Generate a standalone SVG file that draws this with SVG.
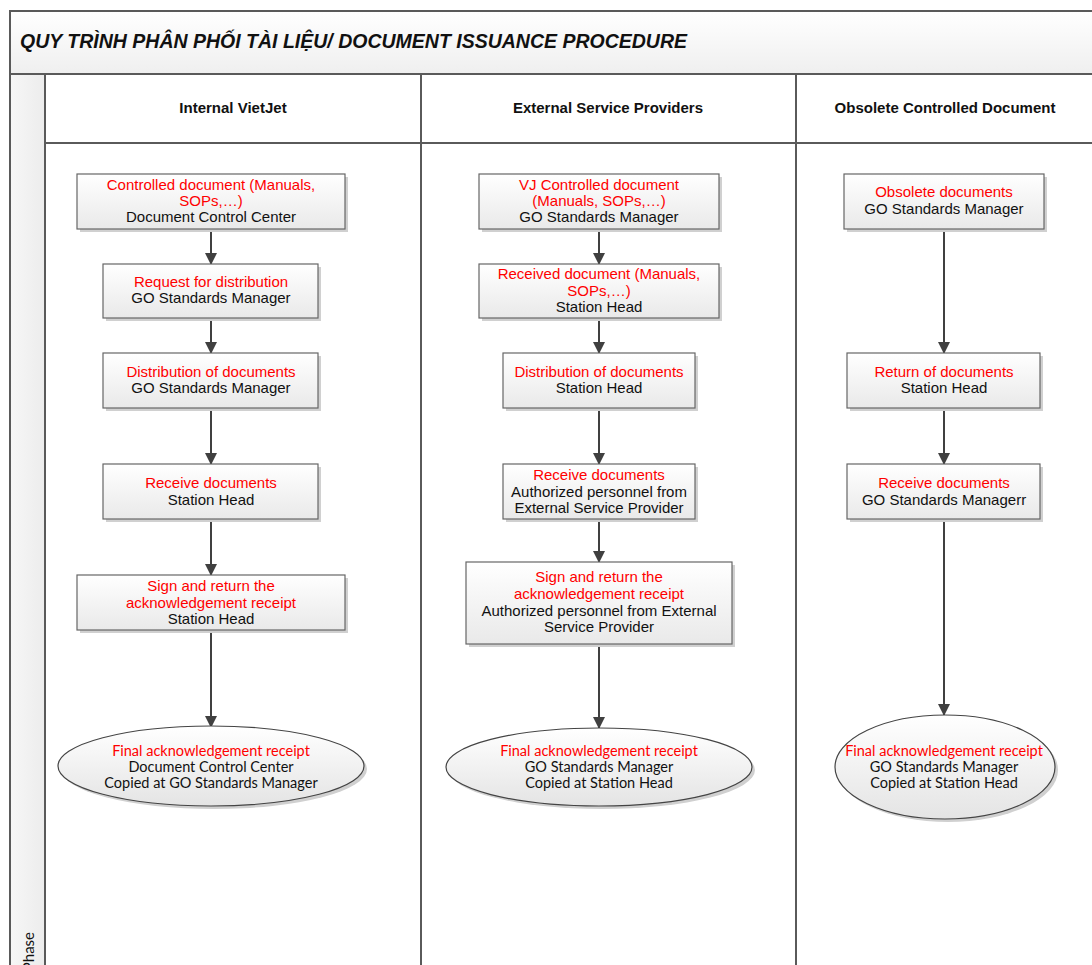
<svg xmlns="http://www.w3.org/2000/svg" width="1092" height="965" viewBox="0 0 1092 965">
<defs>
<linearGradient id="gBox" x1="0" y1="0" x2="0" y2="1"><stop offset="0" stop-color="#ffffff"/><stop offset="1" stop-color="#e9e9e9"/></linearGradient>
<linearGradient id="gEll" x1="0" y1="0" x2="0" y2="1"><stop offset="0" stop-color="#ffffff"/><stop offset="1" stop-color="#e4e4e4"/></linearGradient>
<linearGradient id="gTitle" x1="0" y1="0" x2="0" y2="1"><stop offset="0" stop-color="#ffffff"/><stop offset="1" stop-color="#efefef"/></linearGradient>
<linearGradient id="gPhase" x1="0" y1="0" x2="1" y2="0"><stop offset="0" stop-color="#f7f7f7"/><stop offset="1" stop-color="#ececec"/></linearGradient>
<marker id="arr" markerWidth="12" markerHeight="12" refX="11" refY="6" orient="auto" markerUnits="userSpaceOnUse" viewBox="0 0 12 12"><path d="M0,0 L12,6 L0,12 z" fill="#404040"/></marker>
</defs>
<style>
.frame{fill:none;stroke:#5a5a5a;stroke-width:2}
.box{fill:url(#gBox);stroke:#666;stroke-width:1.2}
.shadow{fill:#d0d0d0}
.ell{fill:url(#gEll);stroke:#444;stroke-width:1.2}
.t{font-family:"Liberation Sans",Arial,sans-serif;font-size:15px;text-anchor:middle}
.e{font-family:Lato,"Open Sans",sans-serif;font-size:14.5px;text-anchor:middle}
.r{fill:#ff0000}
.k{fill:#111}
.hdr{font-family:"Liberation Sans",Arial,sans-serif;font-size:15px;font-weight:bold;text-anchor:middle;fill:#111}
.conn{stroke:#404040;stroke-width:2;fill:none;marker-end:url(#arr)}
</style>
<rect x="0" y="0" width="1092" height="965" fill="#ffffff"/>
<g id="pool">
<rect x="10" y="11" width="1090" height="63" fill="url(#gTitle)"/>
<rect x="10" y="74" width="35" height="900" fill="url(#gPhase)"/>
<path class="frame" d="M1100,11 H10 V975"/>
<path class="frame" d="M10,74 H1100"/>
<path class="frame" d="M45,74 V975"/>
<path class="frame" d="M45,143 H1100"/>
<path class="frame" d="M421,74 V975"/>
<path class="frame" d="M796,74 V975"/>
<text x="20" y="48" font-family="Liberation Sans,Arial,sans-serif" font-size="19.5" font-weight="bold" font-style="italic" fill="#111">QUY TRÌNH PHÂN PHỐI TÀI LIỆU/ DOCUMENT ISSUANCE PROCEDURE</text>
<text class="hdr" x="233" y="113">Internal VietJet</text>
<text class="hdr" x="608" y="113">External Service Providers</text>
<text class="hdr" x="945" y="113">Obsolete Controlled Document</text>
<text transform="translate(34,932) rotate(-90)" text-anchor="end" font-family="Lato,Open Sans,sans-serif" font-size="15" fill="#111">Phase</text>
</g>
<g id="connectors">
<line class="conn" x1="211" y1="229" x2="211" y2="264"/>
<line class="conn" x1="211" y1="318" x2="211" y2="353"/>
<line class="conn" x1="211" y1="408" x2="211" y2="464"/>
<line class="conn" x1="211" y1="519" x2="211" y2="575"/>
<line class="conn" x1="211" y1="630" x2="211" y2="727"/>
<line class="conn" x1="599" y1="229" x2="599" y2="264"/>
<line class="conn" x1="599" y1="318" x2="599" y2="353"/>
<line class="conn" x1="599" y1="408" x2="599" y2="464"/>
<line class="conn" x1="599" y1="519" x2="599" y2="562"/>
<line class="conn" x1="599" y1="644" x2="599" y2="728"/>
<line class="conn" x1="944" y1="229" x2="944" y2="353"/>
<line class="conn" x1="944" y1="408" x2="944" y2="464"/>
<line class="conn" x1="944" y1="519" x2="944" y2="715"/>
</g>
<g id="n1">
<rect class="shadow" x="80" y="177" width="268" height="55"/>
<rect class="box" x="77" y="174" width="268" height="55"/>
<text class="t r" x="211" y="190">Controlled document (Manuals,</text>
<text class="t r" x="211" y="206">SOPs,…)</text>
<text class="t k" x="211" y="222">Document Control Center</text>
</g>
<g id="n2">
<rect class="shadow" x="106" y="267" width="215" height="54"/>
<rect class="box" x="103" y="264" width="215" height="54"/>
<text class="t r" x="211" y="287">Request for distribution</text>
<text class="t k" x="211" y="303">GO Standards Manager</text>
</g>
<g id="n3">
<rect class="shadow" x="106" y="356" width="215" height="55"/>
<rect class="box" x="103" y="353" width="215" height="55"/>
<text class="t r" x="211" y="377">Distribution of documents</text>
<text class="t k" x="211" y="393">GO Standards Manager</text>
</g>
<g id="n4">
<rect class="shadow" x="106" y="467" width="215" height="55"/>
<rect class="box" x="103" y="464" width="215" height="55"/>
<text class="t r" x="211" y="488">Receive documents</text>
<text class="t k" x="211" y="505">Station Head</text>
</g>
<g id="n5">
<rect class="shadow" x="80" y="578" width="268" height="55"/>
<rect class="box" x="77" y="575" width="268" height="55"/>
<text class="t r" x="211" y="591">Sign and return the</text>
<text class="t r" x="211" y="608">acknowledgement receipt</text>
<text class="t k" x="211" y="624">Station Head</text>
</g>
<g id="n6">
<ellipse class="shadow" cx="214" cy="769" rx="153" ry="40"/>
<ellipse class="ell" cx="211" cy="766" rx="153" ry="40"/>
<text class="e r" x="211" y="756">Final acknowledgement receipt</text>
<text class="e k" x="211" y="772">Document Control Center</text>
<text class="e k" x="211" y="788">Copied at GO Standards Manager</text>
</g>
<g id="m1">
<rect class="shadow" x="482" y="177" width="240" height="55"/>
<rect class="box" x="479" y="174" width="240" height="55"/>
<text class="t r" x="599" y="190">VJ Controlled document</text>
<text class="t r" x="599" y="206">(Manuals, SOPs,…)</text>
<text class="t k" x="599" y="222">GO Standards Manager</text>
</g>
<g id="m2">
<rect class="shadow" x="482" y="267" width="240" height="54"/>
<rect class="box" x="479" y="264" width="240" height="54"/>
<text class="t r" x="599" y="279">Received document (Manuals,</text>
<text class="t r" x="599" y="296">SOPs,…)</text>
<text class="t k" x="599" y="312">Station Head</text>
</g>
<g id="m3">
<rect class="shadow" x="506" y="356" width="192" height="55"/>
<rect class="box" x="503" y="353" width="192" height="55"/>
<text class="t r" x="599" y="377">Distribution of documents</text>
<text class="t k" x="599" y="393">Station Head</text>
</g>
<g id="m4">
<rect class="shadow" x="506" y="467" width="192" height="55"/>
<rect class="box" x="503" y="464" width="192" height="55"/>
<text class="t r" x="599" y="480">Receive documents</text>
<text class="t k" x="599" y="497">Authorized personnel from</text>
<text class="t k" x="599" y="513">External Service Provider</text>
</g>
<g id="m5">
<rect class="shadow" x="469" y="565" width="266" height="82"/>
<rect class="box" x="466" y="562" width="266" height="82"/>
<text class="t r" x="599" y="582">Sign and return the</text>
<text class="t r" x="599" y="599">acknowledgement receipt</text>
<text class="t k" x="599" y="616">Authorized personnel from External</text>
<text class="t k" x="599" y="632">Service Provider</text>
</g>
<g id="m6">
<ellipse class="shadow" cx="602" cy="770" rx="153" ry="39"/>
<ellipse class="ell" cx="599" cy="767" rx="153" ry="39"/>
<text class="e r" x="599" y="756">Final acknowledgement receipt</text>
<text class="e k" x="599" y="772">GO Standards Manager</text>
<text class="e k" x="599" y="788">Copied at Station Head</text>
</g>
<g id="o1">
<rect class="shadow" x="847" y="177" width="200" height="55"/>
<rect class="box" x="844" y="174" width="200" height="55"/>
<text class="t r" x="944" y="197">Obsolete documents</text>
<text class="t k" x="944" y="214">GO Standards Manager</text>
</g>
<g id="o2">
<rect class="shadow" x="850" y="356" width="193" height="55"/>
<rect class="box" x="847" y="353" width="193" height="55"/>
<text class="t r" x="944" y="377">Return of documents</text>
<text class="t k" x="944" y="393">Station Head</text>
</g>
<g id="o3">
<rect class="shadow" x="850" y="467" width="193" height="55"/>
<rect class="box" x="847" y="464" width="193" height="55"/>
<text class="t r" x="944" y="488">Receive documents</text>
<text class="t k" x="944" y="505">GO Standards Managerr</text>
</g>
<g id="o4">
<ellipse class="shadow" cx="948" cy="770" rx="110" ry="52"/>
<ellipse class="ell" cx="945" cy="767" rx="110" ry="52"/>
<text class="e r" x="944" y="756">Final acknowledgement receipt</text>
<text class="e k" x="944" y="772">GO Standards Manager</text>
<text class="e k" x="944" y="788">Copied at Station Head</text>
</g>
</svg>
